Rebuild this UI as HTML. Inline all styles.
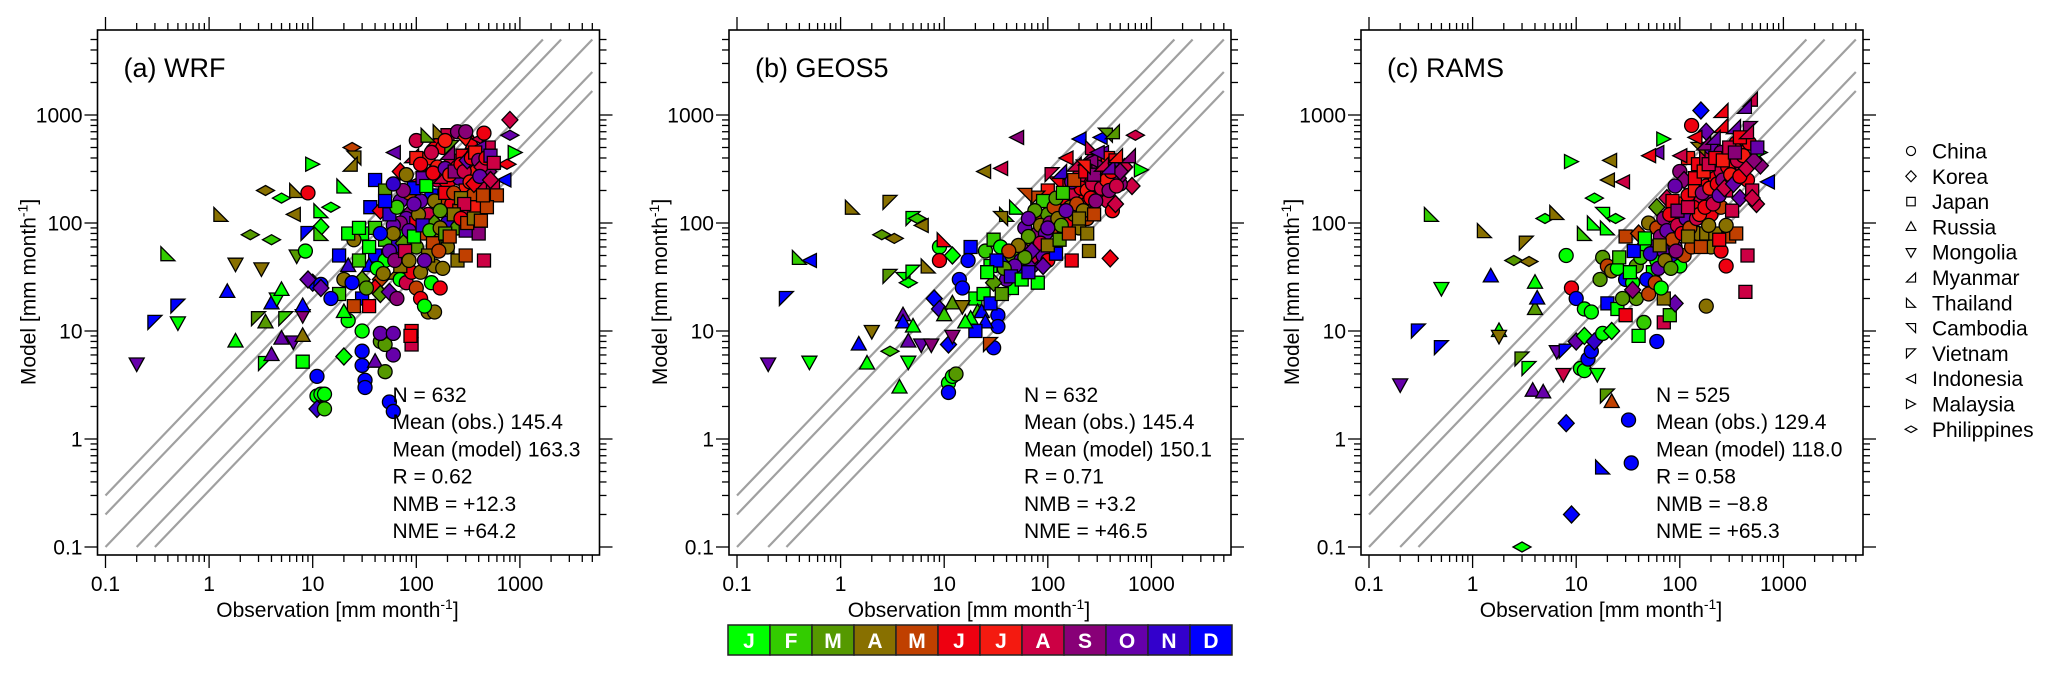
<!DOCTYPE html>
<html><head><meta charset="utf-8"><style>
html,body{margin:0;padding:0;background:#fff}
svg{display:block;font-family:"Liberation Sans",Arial,sans-serif}
</style></head><body>
<svg id="fig" width="2067" height="673" viewBox="0 0 2067 673" xmlns="http://www.w3.org/2000/svg"></svg>
<script>
const monthLabels = ["J","F","M","A","M","J","J","A","S","O","N","D"];
const monthColors = ["#00ff00","#33cc00","#559900","#887000","#c04000","#ee0010","#f41a10","#cc0044","#880077","#6600aa","#3300cc","#0000ff"];
const countries = ["China","Korea","Japan","Russia","Mongolia","Myanmar","Thailand","Cambodia","Vietnam","Indonesia","Malaysia","Philippines"];
const panelTitles = ["(a) WRF","(b) GEOS5","(c) RAMS"];
const xTickLabels = ["0.1","1","10","100","1000"];
const yTickLabels = ["0.1","1","10","100","1000"];
const refRatios = [3,2,1,0.5,1/3];
const statsA = ["N = 632","Mean (obs.) 145.4","Mean (model) 163.3","R = 0.62","NMB = +12.3","NME = +64.2"];
const statsB = ["N = 632","Mean (obs.) 145.4","Mean (model) 150.1","R = 0.71","NMB = +3.2","NME = +46.5"];
const statsC = ["N = 525","Mean (obs.) 129.4","Mean (model) 118.0","R = 0.58","NMB = \u22128.8","NME = +65.3"];
// [obs, model, month index, country index]
const wrfPoints = [
[0.2,5,9,4],[0.3,12,11,8],[0.5,17,11,8],[0.5,12,0,4],[0.4,52,1,6],[1.3,120,3,6],[1.5,23,11,3],[1.8,8,0,3],[1.8,42,3,4],
[2.5,78,2,11],[3.5,200,3,11],[4,70,1,11],[5,170,0,11],[3,13,2,8],[3.2,38,3,4],[3.5,12,2,3],[3.5,5,0,8],[4,6,9,3],[4,18,11,3],
[4.5,20,0,4],[5,24,0,3],[5,8.5,9,3],[5.5,13,1,8],[6.5,8,9,4],[7,200,3,6],[6.5,120,3,9],[7,50,2,4],[8,5.2,0,2],[8,9,3,3],[8,14,8,4],[8,17,11,3],
[9,190,5,0],[8.5,55,0,0],[9,80,11,8],[10,350,0,10],[10,28,11,1],[9,30,9,1],[11,3.8,11,0],[11,2.5,0,0],[11,1.9,10,1],[12,2.6,0,0],[13,1.9,1,0],[13,2.6,0,0],
[12,92,0,1],[12,80,1,6],[12,27,11,0],[12,25,9,1],[12,130,0,6],[15,140,0,11],[24,500,4,11],[25,400,3,7],[23,350,3,5],[20,220,0,6],[20,5.8,0,1],[22,12.5,0,0],
[30,6.5,11,0],[30,4.8,11,0],[32,3.5,11,0],[32,3,11,0],[30,10,0,0],[40,5.2,9,3],[50,4.2,2,0],[55,2.2,11,0],[60,1.8,11,0],[60,6,9,0],[45,8,2,0],[50,7.5,2,0],[45,9.5,9,0],[60,9.5,9,0],
[90,10,5,2],[90,7.5,7,2],[88,9,5,2],[450,45,7,2],[800,900,7,1],[900,450,0,10],[800,650,9,11],[750,350,5,11],[700,250,11,9],[100,580,7,0],
[150,600,5,5],[200,650,7,2],[250,700,8,0],[300,620,6,1],[350,550,5,3],[400,600,7,9],[450,680,5,0],[500,500,7,2],[130,400,6,0],[180,500,5,0],[220,380,7,0],
[280,420,5,2],[330,350,8,0],[380,300,6,0],[450,260,5,0],[120,300,6,5],[160,250,7,0],[200,230,5,1],[260,260,9,0],[300,200,6,2],[350,180,4,0],[420,220,7,1],
[500,300,8,1],[550,220,7,2],[600,180,4,2],[100,240,5,9],[140,180,11,2],[180,160,4,0],[220,150,5,0],[260,130,4,2],[320,120,7,0],[380,140,6,2],[480,140,4,2],
[110,160,9,0],[130,120,7,0],[90,130,8,1],[80,110,9,0],[70,100,8,0],[60,95,9,0],[100,100,5,2],[150,100,2,1],[200,100,10,0],[250,90,2,0],[300,85,9,2],[400,80,8,2],
[120,80,4,2],[160,70,3,0],[200,60,1,2],[80,75,0,2],[60,60,10,0],[50,70,1,2],[40,90,1,2],[30,80,0,2],[25,70,3,0],[40,50,11,2],[50,45,0,0],[35,40,11,3],[30,30,2,1],
[45,30,4,1],[60,35,3,5],[70,30,0,0],[80,28,7,0],[100,25,4,0],[90,35,5,0],[110,20,5,0],[130,15,3,0],[150,15,3,0],[120,17,0,0],[70,40,3,2],[100,60,2,0],[150,40,3,0],
[180,38,3,0],[200,60,3,0],[250,45,3,2],[300,50,4,2],[30,20,11,2],[25,17,4,2],[20,15,0,3],[18,22,1,2],[15,20,11,0],[35,17,5,2],[40,25,5,1],[45,22,2,1],[55,23,9,1],
[65,20,8,0],[20,30,3,0],[22,40,10,3],[18,50,11,2],[22,80,0,2],[28,90,0,2],[36,140,11,2],[40,250,11,2],[50,200,2,2],[45,130,5,1],[70,160,9,0],[70,300,5,1],
[90,420,7,5],[60,450,9,9],[100,400,6,2],[200,450,8,5],[300,700,8,0],[400,500,9,9],[130,650,2,6],[170,700,3,6],[220,500,2,8],[250,330,5,0],[350,420,7,0],[160,330,6,0],
[55,120,10,2],[65,140,1,0],[85,190,4,0],[95,210,11,2],[115,260,9,2],[125,220,0,2],[145,290,5,0],[170,270,7,5],[190,320,9,0],[210,280,6,0],[235,300,8,2],[270,350,5,0],
[290,300,7,0],[310,380,9,1],[340,400,5,0],[370,450,6,2],[400,380,8,0],[430,330,7,1],[470,400,5,0],[520,420,9,2],[560,360,7,2],[150,160,3,0],[170,130,2,0],[190,190,5,2],
[230,190,4,0],[270,170,3,2],[290,150,7,2],[330,240,6,0],[360,230,5,1],[410,270,9,0],[440,180,4,2],[520,250,7,1],[60,80,3,0],[75,65,2,1],[85,85,9,0],[95,75,0,2],
[105,120,3,0],[115,95,10,2],[135,85,1,0],[145,65,4,2],[170,90,3,0],[190,80,2,2],[210,75,4,2],[230,120,3,2],[270,110,5,0],[310,100,4,2],[360,110,3,2],[420,105,4,2],
[35,60,0,2],[45,80,11,0],[55,55,9,0],[42,38,0,0],[28,45,1,2],[24,28,11,0],[33,25,2,0],[48,34,3,0],[62,45,8,0],[78,55,7,2],[85,45,3,0],[130,50,3,2],[165,55,4,0],
[110,35,3,0],[140,28,0,0],[170,25,5,0],[120,45,9,0],[95,150,9,0],[75,200,8,0],[50,160,11,2],[60,230,10,0],[80,280,3,0],[110,350,5,0],[140,450,7,0],[190,580,6,0]
];
const geosPoints = [
[0.2,5,9,4],[0.5,5.2,0,4],[0.3,20,11,8],[0.4,48,1,6],[0.5,45,11,9],[1.3,140,3,6],[2.5,78,2,11],[3.3,72,3,11],[3,155,3,8],[5,110,0,8],[6,95,3,9],[5.5,110,1,11],
[2,10,3,4],[1.5,7.5,11,3],[1.8,5,0,3],[3,6.5,1,11],[3.7,3,0,3],[4.5,5.2,0,4],[4,14,9,3],[4,12,11,3],[5,11,0,3],[4.5,8,9,3],[6,7.5,9,4],[7.5,7.5,8,4],
[3,32,2,8],[4,30,0,7],[4.5,28,0,11],[5,35,0,8],[7,40,3,6],[8,20,11,1],[9,16,10,1],[11,7.5,11,1],[11,3.3,0,0],[12,3.8,0,0],[13,4,2,0],[11,2.7,11,0],
[24,300,3,9],[35,320,7,9],[50,620,8,9],[30,7,11,0],[33,14,11,0],[33,11,11,0],[28,7.5,4,8],[12,9,8,4],[400,47,5,1],[700,650,7,11],[800,310,0,10],[650,220,7,1],
[9,60,0,0],[9,45,5,0],[10,70,5,6],[12,50,0,1],[14,30,11,0],[15,25,11,0],[17,45,11,0],[18,60,11,2],[20,20,0,2],[21,15,1,3],[18,13,0,3],[23,15,11,3],[25,12,11,3],
[20,10,11,2],[16,12,0,3],[10,14,1,3],[12,18,2,3],[15,17,3,4],[25,55,1,0],[28,40,0,2],[30,70,1,2],[35,60,0,0],[40,45,11,2],[45,25,0,2],[40,30,9,0],[50,35,11,0],
[45,50,2,0],[55,45,9,0],[60,60,8,0],[70,40,9,0],[80,28,0,2],[75,50,7,1],[90,50,9,0],[100,45,5,0],[90,40,9,1],[120,52,11,2],[170,45,5,2],[250,55,3,2],
[60,90,9,0],[70,70,3,0],[80,80,8,0],[90,110,4,0],[100,120,2,0],[110,90,4,0],[130,130,3,0],[150,100,5,0],[180,120,3,0],[200,90,3,0],[240,110,4,0],[160,160,5,0],
[200,180,5,0],[230,150,7,1],[260,120,4,2],[300,200,6,0],[350,180,5,0],[380,160,7,0],[420,130,5,0],[450,150,7,1],[500,230,8,0],[320,250,7,0],[250,250,5,0],
[200,270,7,0],[150,220,6,2],[120,230,5,7],[100,200,6,2],[80,170,4,8],[60,180,4,7],[50,140,0,6],[40,120,1,6],[35,110,3,7],[180,350,7,5],[230,400,8,5],
[280,380,7,5],[330,450,9,9],[380,400,6,2],[450,380,5,2],[300,330,8,0],[420,330,9,0],[350,280,7,0],[480,260,8,1],[550,330,7,1],[600,420,8,5],[320,620,11,9],
[200,600,11,9],[360,650,2,7],[420,700,2,5],[270,500,7,6],[150,400,5,9],[130,300,10,5],[110,280,7,8],[90,160,1,2],[75,130,2,0],[65,110,9,0],[140,150,9,0],
[65,75,2,0],[85,95,3,0],[95,80,9,0],[105,100,8,0],[115,140,4,0],[125,110,3,0],[135,95,2,0],[145,170,5,0],[165,140,3,0],[175,190,7,0],[190,150,4,0],[210,210,5,0],
[220,130,3,0],[240,200,6,0],[260,170,5,0],[270,230,7,0],[290,160,8,0],[310,280,5,0],[330,210,7,0],[370,250,6,0],[390,200,8,0],[410,300,5,0],[460,220,7,0],[500,300,8,1],
[170,240,9,0],[150,130,9,0],[120,170,2,0],[100,90,9,0],[85,65,7,0],[70,55,9,1],[60,48,2,0],[52,62,3,0],[48,40,9,0],[42,55,4,0],[38,38,2,0],[32,45,11,2],
[30,28,2,1],[26,35,0,2],[24,22,0,2],[28,18,11,2],[36,22,2,2],[44,32,10,2],[56,30,0,2],[65,35,10,2],[100,62,3,2],[130,70,2,2],[160,80,4,2],[200,110,3,2],
[240,80,3,2],[280,120,4,2],[140,190,1,2],[180,250,4,2],[230,300,5,2],[280,280,8,2],[330,350,7,5],[380,330,9,5],[450,420,6,5],[260,380,8,9],[300,450,9,9],[220,330,6,7]
];
const ramsPoints = [
[0.2,3.2,9,4],[0.3,10,11,8],[0.5,7,11,8],[0.5,25,0,4],[0.4,120,1,6],[1.3,85,3,6],[1.5,32,11,3],[1.8,10,0,3],[1.8,9,3,4],[2.5,45,2,11],[3.5,44,3,11],
[3.3,65,3,8],[3,5.5,2,8],[3.5,4.5,0,8],[4,28,0,3],[4,16,2,3],[4.2,20,11,3],[3.8,2.8,9,3],[4.8,2.7,9,3],[5,110,0,11],[6.5,125,3,6],[3,0.1,0,11],
[8,1.4,11,1],[9,0.2,11,1],[18,0.55,11,6],[32,1.5,11,0],[34,0.6,11,0],[20,2.5,2,8],[22,2.2,4,3],[9,370,0,10],[21,380,3,9],[20,250,3,9],[28,240,7,9],
[15,170,0,11],[160,1100,11,1],[600,450,0,10],[700,240,11,9],[480,1400,7,5],[420,1200,9,5],[250,1100,5,5],[430,23,7,2],[180,17,3,0],[6.5,6.5,9,4],
[8,6.5,11,8],[7.5,4,7,4],[11,4.5,0,0],[12,4.3,0,0],[13,5.5,11,0],[14,6.5,11,0],[16,4,0,4],[10,8,9,1],[12,9,0,1],[15,8,10,1],[18,9.5,0,0],[22,10,0,1],
[8,50,0,0],[9,25,5,0],[10,20,11,0],[12,16,0,0],[14,15,0,0],[17,30,2,0],[18,48,2,0],[20,40,4,0],[22,36,3,0],[25,38,0,0],[30,30,11,0],[35,28,0,0],
[38,20,2,0],[20,18,11,2],[25,16,0,2],[30,14,5,2],[35,24,8,1],[45,12,1,0],[50,22,4,0],[40,9,0,2],[60,8,11,0],[70,12,7,2],[80,14,1,2],[90,18,9,1],
[70,20,3,2],[55,35,0,2],[60,45,0,0],[70,55,9,0],[80,45,10,0],[90,60,9,0],[100,40,0,0],[110,50,4,0],[130,60,4,0],[150,80,3,0],[180,80,3,2],[200,60,3,0],
[220,80,3,2],[250,55,5,0],[280,40,5,0],[300,75,4,2],[450,50,7,2],[12,80,1,6],[15,100,0,6],[18,120,0,7],[20,90,0,6],[24,110,0,11],[30,75,4,2],
[40,80,4,1],[50,100,3,0],[60,90,4,0],[70,110,8,0],[80,120,5,0],[100,150,6,0],[110,130,7,2],[120,180,5,0],[140,200,6,2],[160,160,7,0],[180,220,5,0],
[200,180,8,0],[220,260,5,0],[250,300,7,0],[280,200,7,2],[300,250,6,0],[350,300,8,0],[400,350,7,2],[450,250,5,0],[500,200,7,2],[550,150,7,1],
[100,300,8,0],[120,400,6,2],[150,350,5,2],[180,400,7,2],[200,500,9,0],[250,450,8,0],[300,420,7,0],[350,550,5,0],[400,500,6,0],[420,600,5,0],
[130,800,5,0],[180,700,9,1],[250,800,5,5],[330,780,9,5],[480,750,8,8],[60,450,9,9],[50,420,5,9],[70,600,0,10],[150,480,3,7],[110,250,8,1],
[90,220,9,0],[75,170,7,1],[60,140,2,1],[150,130,4,0],[200,120,5,0],[250,140,4,0],[320,130,7,2],[380,170,9,1],[500,170,7,1],[600,340,8,1],
[55,60,9,0],[65,75,8,0],[75,85,9,0],[85,70,4,0],[95,95,7,0],[105,80,5,0],[115,110,9,0],[125,90,4,0],[135,140,5,0],[145,110,7,0],[155,120,6,0],[165,190,8,0],
[175,140,5,0],[195,210,6,0],[210,150,7,0],[230,230,5,0],[240,180,9,0],[260,250,8,0],[270,210,7,1],[290,330,5,0],[310,280,6,0],[330,230,9,1],[360,380,7,0],
[380,270,5,0],[410,420,6,0],[440,320,7,1],[470,550,5,0],[520,380,8,1],[560,500,9,2],[85,160,5,2],[95,130,8,2],[120,140,7,2],[140,260,5,2],[170,300,6,2],
[190,350,7,2],[220,400,5,2],[260,380,6,2],[300,500,7,2],[340,450,8,2],[380,620,5,2],[440,700,7,5],[140,620,5,9],[170,550,8,5],[210,620,9,5],[100,420,7,9],
[45,60,0,0],[38,40,2,0],[42,48,1,0],[52,52,10,0],[62,38,9,0],[72,45,3,0],[82,38,2,0],[92,55,8,0],[48,30,11,0],[58,28,4,0],[66,25,0,0],[28,20,2,0],
[33,35,0,2],[26,48,1,2],[36,55,11,2],[46,72,0,2],[64,62,3,2],[120,75,3,2],[160,60,4,2],[190,95,3,0],[240,70,5,2],[350,80,4,2],[280,95,3,0]
];
const allPoints = [wrfPoints, geosPoints, ramsPoints];
const allStats = [statsA, statsB, statsC];

const NS = "http://www.w3.org/2000/svg";
const svg = document.getElementById("fig");
function mk(tag, attrs, parent){
  const e = document.createElementNS(NS, tag);
  for (const k in attrs) e.setAttribute(k, attrs[k]);
  (parent || svg).appendChild(e);
  return e;
}
const panelX = [97.5, 729, 1361];
const BOX_W = 502, BOX_T = 30, BOX_B = 555;
const DEC_X = 103.6, DEC_Y = 108;
function xScale(p, v){ return panelX[p] + 8 + (Math.log10(v) + 1) * DEC_X; }
function yScale(v){ return 547 - (Math.log10(v) + 1) * DEC_Y; }

function shapePath(c, x, y){
  const r = 7;
  const P = pts => "M" + pts.map(q => (x + q[0]).toFixed(1) + "," + (y + q[1]).toFixed(1)).join("L") + "Z";
  switch(c){
    case 1: return P([[0,-8.5],[8,0],[0,8.5],[-8,0]]);
    case 2: return P([[-6.5,-6.5],[6.5,-6.5],[6.5,6.5],[-6.5,6.5]]);
    case 3: return P([[0,-8],[7.5,5.5],[-7.5,5.5]]);
    case 4: return P([[0,8],[7.5,-5.5],[-7.5,-5.5]]);
    case 5: return P([[r,-r],[r,r],[-r,r]]);
    case 6: return P([[-r,-r],[-r,r],[r,r]]);
    case 7: return P([[-r,-r],[r,-r],[r,r]]);
    case 8: return P([[-r,-r],[r,-r],[-r,r]]);
    case 9: return P([[r,-r],[r,r],[-r,0]]);
    case 10: return P([[-r,-r],[-r,r],[r,0]]);
    case 11: return P([[0,-5],[9,0],[0,5],[-9,0]]);
  }
  return null;
}
function drawMarker(group, c, x, y, fill, sw){
  if (c === 0) return mk("circle", {cx:x, cy:y, r:7, fill:fill, stroke:"#000", "stroke-width":sw}, group);
  return mk("path", {d:shapePath(c, x, y), fill:fill, stroke:"#000", "stroke-width":sw, "stroke-linejoin":"miter"}, group);
}

for (let p = 0; p < 3; p++){
  const g = mk("g", {});
  
  
  const L = panelX[p], R = L + BOX_W;
  const lines = mk("g", {}, g);
  
  
  refRatios.forEach(k => {
    let x0 = 0.1, y0 = 0.1 * k;
    if (y0 < 0.1){ x0 = 0.1 / k; y0 = 0.1; }
    let x1 = 5000, y1 = 5000 * k;
    if (y1 > 5000){ x1 = 5000 / k; y1 = 5000; }
    const ln = mk("line", {x1:xScale(p,x0), y1:yScale(y0), x2:xScale(p,x1), y2:yScale(y1), stroke:"#a0a0a0", "stroke-width":2.2}, lines);
    
    
  });
  const pts = mk("g", {}, g);
  
  
  allPoints[p].forEach(d => {
    const m = drawMarker(pts, d[3], xScale(p, d[0]), yScale(d[1]), monthColors[d[2]], 1.3);
    
    
  });
  const box = mk("rect", {x:L, y:BOX_T, width:BOX_W, height:BOX_B - BOX_T, fill:"none", stroke:"#000", "stroke-width":1.6}, g);
  
  
  const ticks = mk("g", {stroke:"#000", "stroke-width":1.3}, g);
  
  
  for (let e = -1; e <= 3; e++){
    for (let m = 1; m <= 9; m++){
      const v = m * Math.pow(10, e);
      const len = m === 1 ? 13 : 7;
      const xx = xScale(p, v), yy = yScale(v);
      mk("line", {x1:xx, y1:BOX_B, x2:xx, y2:BOX_B + len}, ticks);
      mk("line", {x1:xx, y1:BOX_T, x2:xx, y2:BOX_T - len}, ticks);
      mk("line", {x1:L, y1:yy, x2:L - len, y2:yy}, ticks);
      mk("line", {x1:R, y1:yy, x2:R + len, y2:yy}, ticks);
      if (e === 3 && m >= 5) break;
    }
  }
  xTickLabels.forEach((t, i) => {
    const tx = mk("text", {x:xScale(p, Math.pow(10, i - 1)), y:591, "font-size":21, "text-anchor":"middle"}, g);
    tx.textContent = t;
    
    
  });
  yTickLabels.forEach((t, i) => {
    const ty = mk("text", {x:L - 15, y:yScale(Math.pow(10, i - 1)) + 7.5, "font-size":21, "text-anchor":"end"}, g);
    ty.textContent = t;
    
    
  });
  const xt = mk("text", {x:L + 240, y:617, "font-size":21, "text-anchor":"middle"}, g);
  xt.innerHTML = 'Observation [mm month<tspan dy="-8" font-size="14">-1</tspan><tspan dy="8">]</tspan>';
  
  
  const yt = mk("text", {x:0, y:0, "font-size":21, "text-anchor":"middle", transform:"translate(" + (L - 62) + ",292) rotate(-90)"}, g);
  yt.innerHTML = 'Model [mm month<tspan dy="-8" font-size="14">-1</tspan><tspan dy="8">]</tspan>';
  
  
  const pt = mk("text", {x:L + 26, y:77, "font-size":27}, g);
  pt.textContent = panelTitles[p];
  
  
  allStats[p].forEach((s, i) => {
    const st = mk("text", {x:L + 8 + 287, y:402 + i * 27.2, "font-size":21}, g);
    st.textContent = s;
    
    
  });
}

const lg = mk("g", {});


countries.forEach((c, i) => {
  const y = 151 + i * 25.3;
  const sg = mk("g", {transform:"translate(1911," + y + ") scale(0.65) translate(-1911," + (-y) + ")"}, lg);
  drawMarker(sg, i, 1911, y, "none", 1.8);
  const t = mk("text", {x:1932, y:y + 7.5, "font-size":21}, lg);
  t.textContent = c;
  
  
});

const cb = mk("g", {});


monthLabels.forEach((m, i) => {
  const r = mk("rect", {x:728 + i * 42, y:625, width:42, height:30, fill:monthColors[i], stroke:"#222", "stroke-width":1.5}, cb);
  
  
  const t = mk("text", {x:728 + i * 42 + 21, y:648, "font-size":21, "font-weight":"bold", fill:"#fff", "text-anchor":"middle"}, cb);
  t.textContent = m;
  
  
});
</script>
</body></html>
